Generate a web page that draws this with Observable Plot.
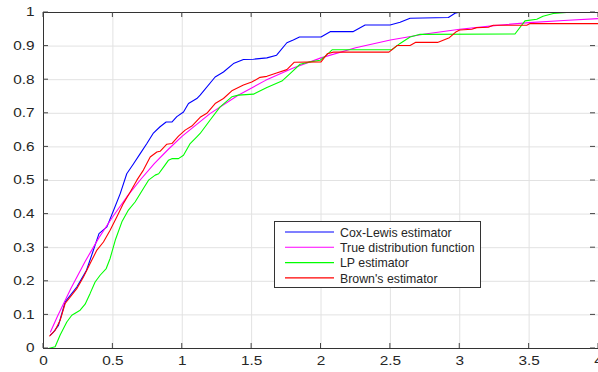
<!DOCTYPE html>
<html><head><meta charset="utf-8">
<script src="https://cdn.jsdelivr.net/npm/d3@7"></script>
<script src="https://cdn.jsdelivr.net/npm/@observablehq/plot@0.6"></script>
<style>body{margin:0;background:#fff;overflow:hidden;}</style>
</head><body><div id="chart"></div>
<script>
const coxX = [0.05,0.072,0.108,0.156,0.24,0.31,0.36,0.40,0.457,0.504,0.553,0.60,0.649,0.697,0.745,0.79,0.84,0.884,0.925,0.961,1.009,1.045,1.105,1.129,1.237,1.297,1.369,1.441,1.513,1.61,1.68,1.754,1.80,1.845,2.0,2.066,2.23,2.318,2.498,2.57,2.642,2.918,2.966,2.99,4];
const coxY = [0.04,0.049,0.069,0.139,0.183,0.233,0.293,0.342,0.362,0.41,0.461,0.52,0.55,0.58,0.61,0.64,0.66,0.674,0.674,0.69,0.704,0.729,0.744,0.754,0.808,0.823,0.848,0.86,0.861,0.865,0.873,0.91,0.918,0.927,0.927,0.943,0.943,0.963,0.963,0.971,0.983,0.985,0.998,1,1];

const trueX = [0.05,0.1,0.2,0.3,0.4,0.5,0.6,0.7,0.8,0.9,1.0,1.2,1.4,1.6,1.8,2.0,2.25,2.5,2.75,3.0,3.25,3.5,3.75,4.0];
const trueY = [0.049,0.095,0.181,0.259,0.330,0.393,0.451,0.503,0.551,0.593,0.632,0.699,0.753,0.798,0.835,0.865,0.895,0.918,0.936,0.950,0.961,0.970,0.976,0.982];

const lpX = [0.036,0.084,0.12,0.168,0.204,0.264,0.3,0.336,0.372,0.408,0.452,0.48,0.517,0.565,0.612,0.66,0.72,0.757,0.805,0.83,0.865,0.9,0.925,0.973,1.009,1.057,1.105,1.129,1.201,1.273,1.357,1.405,1.513,1.61,1.718,1.777,1.849,1.921,1.994,2.04,2.08,2.51,2.57,2.642,2.714,3.398,3.47,3.555,3.6,3.674,3.77,4];
const lpY = [0,0.005,0.04,0.079,0.099,0.114,0.132,0.164,0.198,0.218,0.238,0.268,0.322,0.377,0.412,0.436,0.476,0.501,0.516,0.52,0.54,0.56,0.565,0.565,0.575,0.61,0.63,0.64,0.68,0.719,0.749,0.754,0.757,0.777,0.796,0.818,0.846,0.853,0.858,0.873,0.889,0.889,0.908,0.927,0.935,0.936,0.975,0.98,0.989,0.997,1,1];

const brownX = [0.045,0.084,0.12,0.156,0.24,0.288,0.336,0.385,0.432,0.48,0.529,0.576,0.625,0.673,0.72,0.769,0.817,0.84,0.889,0.925,0.973,1.021,1.069,1.129,1.177,1.237,1.297,1.357,1.441,1.501,1.561,1.61,1.68,1.754,1.808,2.0,2.045,2.09,2.49,2.55,2.642,2.68,2.84,2.925,2.975,3.0,3.087,3.122,3.206,3.242,3.483,3.507,4.0];
const brownY = [0.0375,0.054,0.084,0.134,0.178,0.213,0.253,0.293,0.317,0.352,0.392,0.432,0.466,0.501,0.531,0.57,0.585,0.587,0.608,0.61,0.632,0.65,0.662,0.688,0.70,0.729,0.744,0.767,0.784,0.793,0.807,0.81,0.82,0.83,0.852,0.853,0.877,0.882,0.882,0.902,0.902,0.911,0.911,0.925,0.943,0.948,0.950,0.955,0.956,0.962,0.962,0.967,0.967];

const seriesNames = ["Cox-Lewis estimator","True distribution function","LP estimator","Brown's estimator"];
const seriesColors = ["#0000ff","#ff00ff","#00ff00","#ff0000"];

const xTicks = [0,0.5,1,1.5,2,2.5,3,3.5,4];
const xTickLabels = ["0","0.5","1","1.5","2","2.5","3","3.5","4"];
const yTicks = [0,0.1,0.2,0.3,0.4,0.5,0.6,0.7,0.8,0.9,1];
const yTickLabels = ["0","0.1","0.2","0.3","0.4","0.5","0.6","0.7","0.8","0.9","1"];

const xLab = new Map(xTicks.map((t,i)=>[t,xTickLabels[i]]));
const yLab = new Map(yTicks.map((t,i)=>[t,yTickLabels[i]]));

const rows = [];
[[coxX,coxY],[trueX,trueY],[lpX,lpY],[brownX,brownY]].forEach(([xs,ys],i)=>{
  xs.forEach((x,j)=>rows.push({x, y: ys[j], s: seriesNames[i]}));
});

const plot = Plot.plot({
  width: 598, height: 372,
  marginLeft: 43, marginRight: 0, marginTop: 12, marginBottom: 24,
  x: {domain: [0,4]},
  y: {domain: [0,1]},
  color: {domain: seriesNames, range: seriesColors},
  style: {fontFamily: "'Liberation Sans', Arial, sans-serif", fontSize: "12px", color: "#262626", background: "#fff"},
  marks: [
    Plot.gridX(xTicks, {stroke: "#e2e2e2", strokeOpacity: 1, strokeWidth: 1}),
    Plot.gridY(yTicks, {stroke: "#e2e2e2", strokeOpacity: 1, strokeWidth: 1}),
    Plot.line(rows, {x: "x", y: "y", z: "s", stroke: "s", strokeWidth: 1.1}),
    Plot.frame({stroke: "#333", strokeWidth: 1}),
    Plot.axisX(xTicks, {tickSize: 0, tickPadding: 8, tickFormat: d => xLab.get(d), label: null}),
    Plot.axisY(yTicks, {tickSize: 0, tickPadding: 9, tickFormat: d => yLab.get(d), label: null})
  ]
});

const svg = d3.select(plot);
// widen tick label glyphs like the reference (scale only horizontally, around each label's anchor)
svg.selectAll("text").each(function(){
  const tr = this.getAttribute("transform") || "";
  this.setAttribute("transform", (tr + " scale(1.28,1)").trim());
});

const sx = plot.scale("x"), sy = plot.scale("y");
const tg = svg.append("g").attr("stroke", "#444").attr("stroke-width", 1);
const x0 = sx.apply(0), x1 = sx.apply(4), y0 = sy.apply(0), y1 = sy.apply(1);
xTicks.forEach(t => {
  const px = sx.apply(t);
  tg.append("line").attr("x1", px).attr("x2", px).attr("y1", y0).attr("y2", y0 - 5);
  tg.append("line").attr("x1", px).attr("x2", px).attr("y1", y1).attr("y2", y1 + 5);
});
yTicks.forEach(t => {
  const py = sy.apply(t);
  tg.append("line").attr("x1", x0).attr("x2", x0 + 5).attr("y1", py).attr("y2", py);
  tg.append("line").attr("x1", x1 - 3).attr("x2", x1 - 8).attr("y1", py).attr("y2", py);
});

// legend
const lg = svg.append("g");
lg.append("rect").attr("x", 274.5).attr("y", 221.5).attr("width", 206).attr("height", 66)
  .attr("fill", "#fff").attr("stroke", "#333").attr("stroke-width", 1);
seriesNames.forEach((name, i) => {
  const cy = 232 + i * 15.3;
  lg.append("line").attr("x1", 285).attr("x2", 334).attr("y1", cy).attr("y2", cy)
    .attr("stroke", seriesColors[i]).attr("stroke-width", 1.1);
  lg.append("text").attr("transform", `translate(340,${cy}) scale(0.95,1)`).attr("dy", "0.36em")
    .attr("text-anchor", "start").attr("font-size", 13).attr("fill", "#262626").text(name);
});

document.getElementById("chart").appendChild(plot);
</script>
</body></html>
